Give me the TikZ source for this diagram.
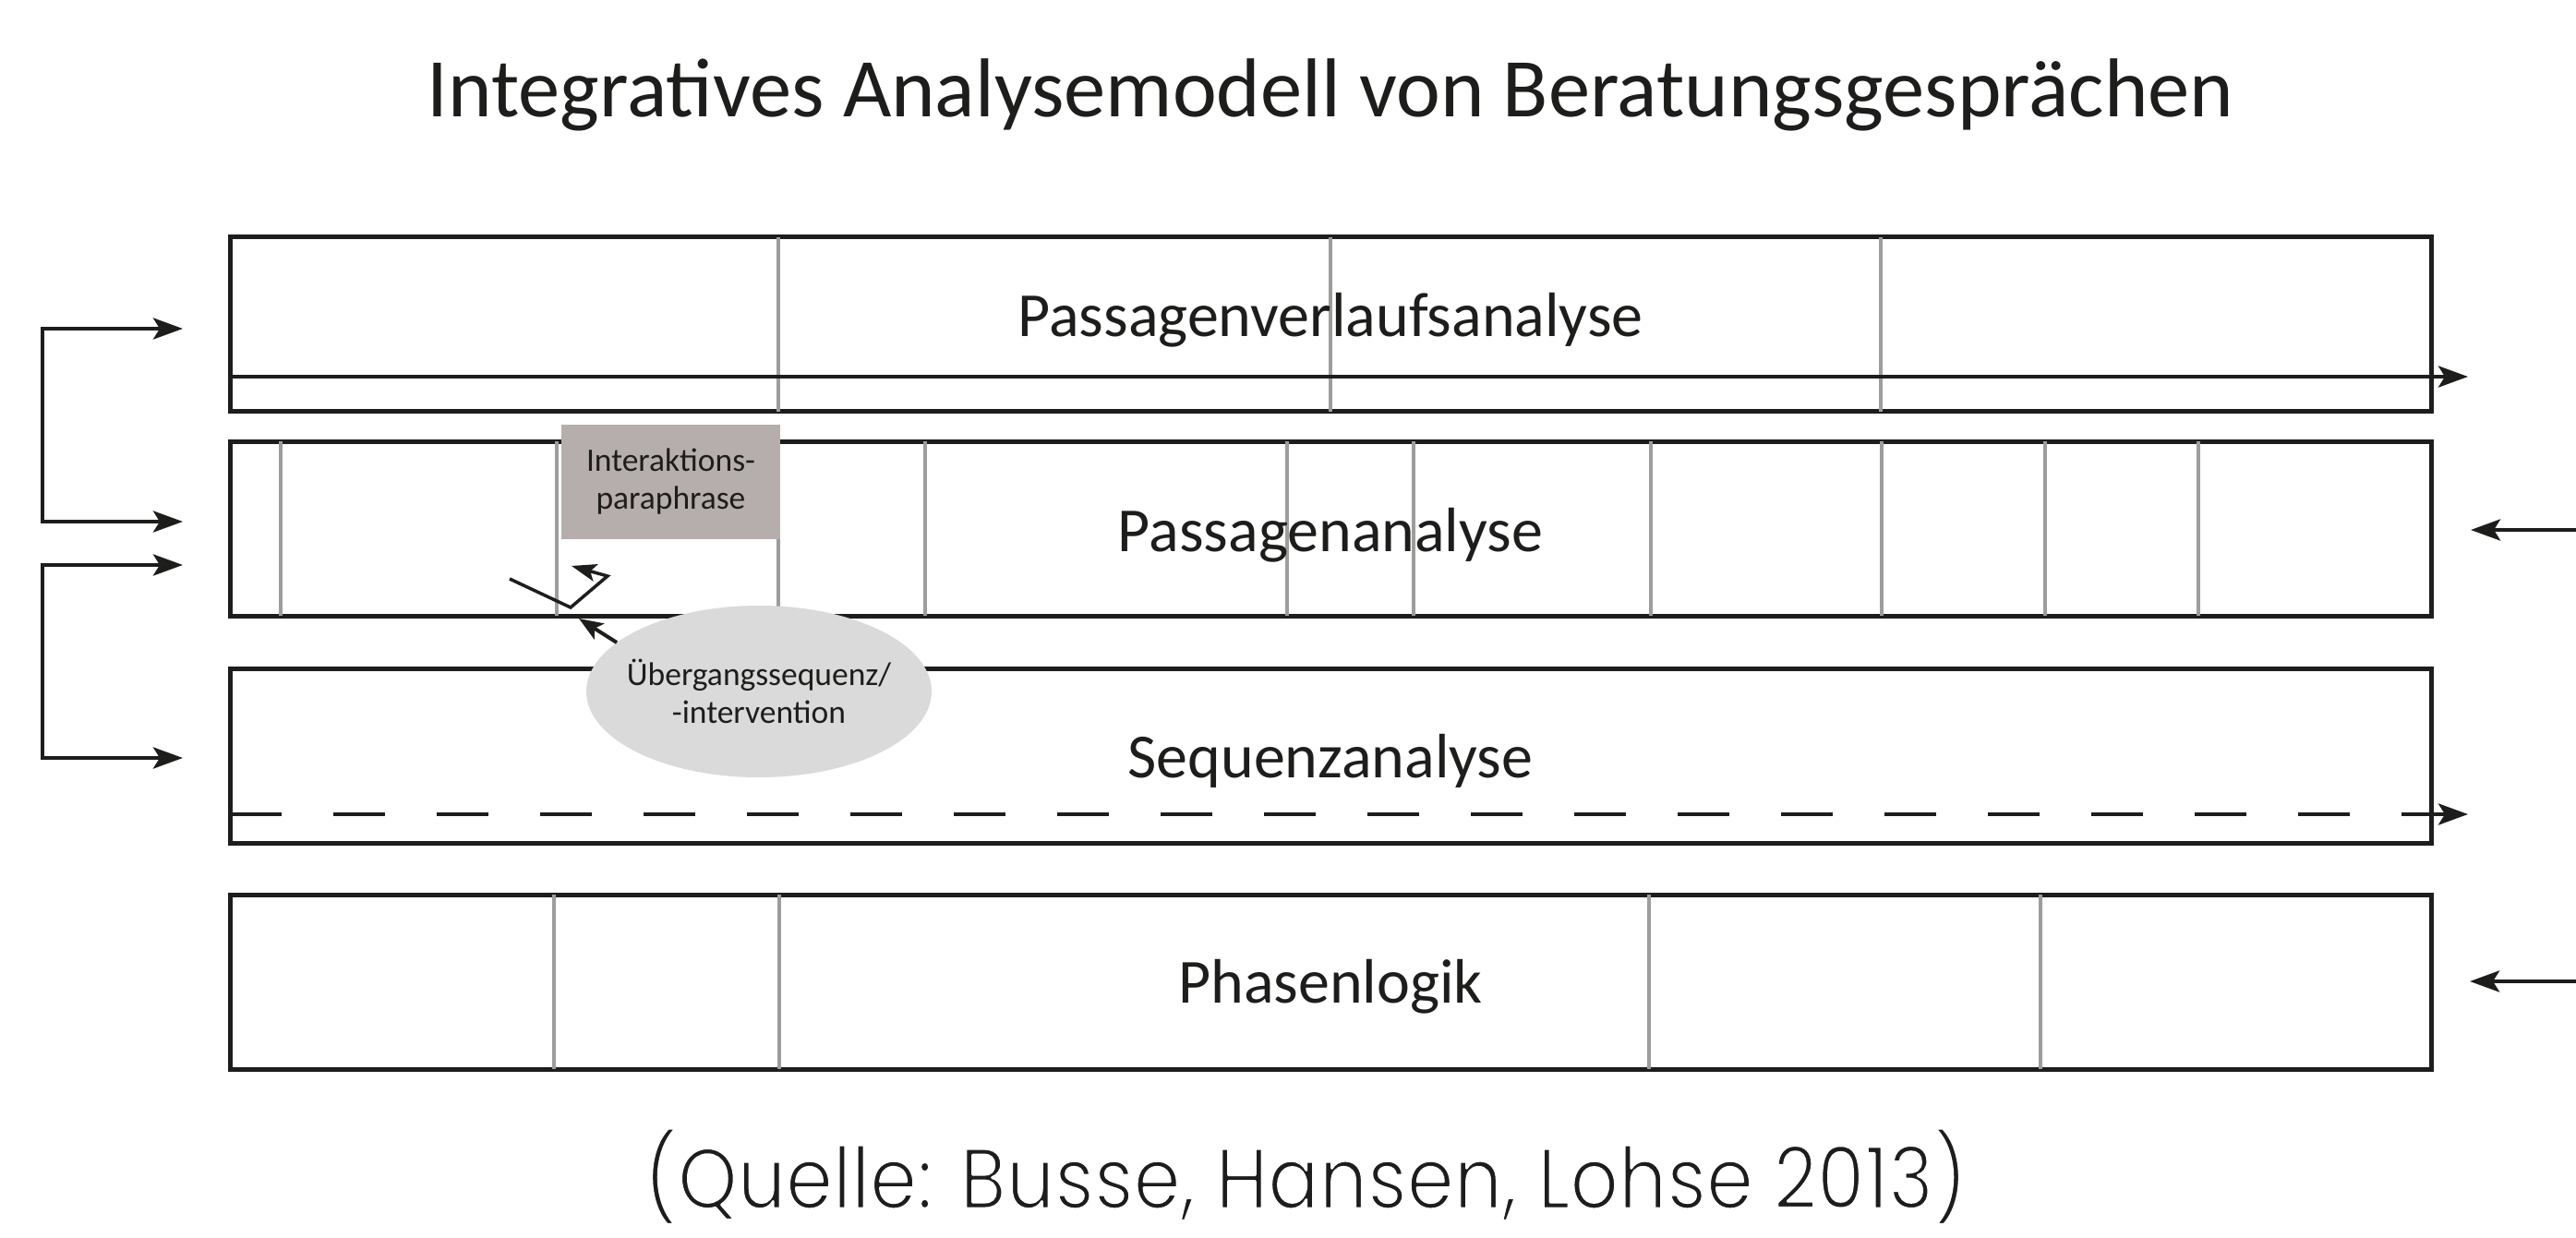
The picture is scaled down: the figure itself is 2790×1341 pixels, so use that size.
\documentclass[tikz,border=0pt]{standalone}
\usepackage{graphicx}
\usepackage{fontspec}
\setmainfont{Carlito}
\newfontfamily\capfont{Poppins}
\usetikzlibrary{arrows.meta,shapes.geometric}
\definecolor{ink}{HTML}{1D1D1B}
\definecolor{divgray}{HTML}{9D9D9C}
\definecolor{parafill}{HTML}{B5AEAC}
\definecolor{ellfill}{HTML}{DADADA}
\newcommand\thinstroke[1]{\special{pdf:literal direct 2 Tr 1 G 1 j 3 w}#1\special{pdf:literal direct 0 Tr}}
\tikzset{
  band/.style={draw=ink, line width=5pt, minimum width=2384pt, minimum height=189pt, inner sep=0pt},
  divider/.style={draw=divgray, line width=4pt, shorten <=2.5pt, shorten >=2.5pt},
  bandlabel/.style={font=\fontsize{68}{80}\selectfont, text=ink, anchor=base, inner sep=0pt},
  flow/.style={draw=ink, line width=4.5pt, -{Stealth[length=32pt,width=23pt,inset=7pt]}},
  loopline/.style={draw=ink, line width=4.5pt, {Stealth[length=32pt,width=23pt,inset=7pt]}-{Stealth[length=32pt,width=23pt,inset=7pt]}},
  thinarrow/.style={draw=ink, line width=4pt, -{Stealth[length=26pt,width=20pt,inset=6pt]}},
  smalltext/.style={font=\fontsize{35.5}{41}\selectfont, text=ink, align=center},
}
\begin{document}
\begin{tikzpicture}[x=1pt,y=-1pt]
\path[use as bounding box, fill=white] (0,0) rectangle (2790,1341);

% title
\node[font=\fontsize{90.5}{100}\selectfont, text=ink, anchor=base, inner sep=0pt] (title) at (1441,126) {Integratives Analysemodell von Beratungsgesprächen};

% bands
\node[band] (b1) at (1441,351) {};
\node[band] (b2) at (1441,572.5) {};
\node[band] (b3) at (1441,819) {};
\node[band] (b4) at (1441,1063.5) {};

% dividers
\foreach \x in {843,1441,2037}
  \draw[divider] (\x,0 |- b1.north) -- (\x,0 |- b1.south);
\foreach \x in {304,603,843,1002,1394,1531,1788,2038,2215,2381}
  \draw[divider] (\x,0 |- b2.north) -- (\x,0 |- b2.south);
\foreach \x in {600,844,1786,2210}
  \draw[divider] (\x,0 |- b4.north) -- (\x,0 |- b4.south);

% band labels
\node[bandlabel] (l1) at (1441,364) {Passagenverlaufsanalyse};
\node[bandlabel] (l2) at (1441,597) {Passagenanalyse};
\node[bandlabel] (l3) at (1441,842) {Sequenzanalyse};
\node[bandlabel] (l4) at (1441,1086) {Phasenlogik};

% horizontal flow arrows
\coordinate (f1s) at (249,408);
\coordinate (f1e) at (2673,408);
\draw[flow] (f1s) -- (f1e);
\coordinate (f3s) at (249,882);
\coordinate (f3e) at (2673,882);
\draw[flow, dash pattern=on 56pt off 56pt] (f3s) -- (f3e);

% right incoming arrows
\coordinate (r2s) at (2790,574);
\coordinate (r2e) at (2676,574);
\draw[flow] (r2s) -- (r2e);
\coordinate (r4s) at (2790,1063);
\coordinate (r4e) at (2675,1063);
\draw[flow] (r4s) -- (r4e);

% left loop brackets
\coordinate (a1) at (198,356);
\coordinate (a2) at (198,565);
\draw[loopline] (a1) -- (46,356) -- (46,565) -- (a2);
\coordinate (a3) at (198,612);
\coordinate (a4) at (198,821);
\draw[loopline] (a3) -- (46,612) -- (46,821) -- (a4);

% Interaktionsparaphrase box
\node[fill=parafill, minimum width=237pt, minimum height=124pt, inner sep=0pt, smalltext] (para) at (726.5,522) {Interaktions-\\paraphrase};

% angle mark
\coordinate (m1) at (552,627);
\coordinate (m2) at (618,658);
\coordinate (m3) at (658,624);
\coordinate (m4) at (619,613);
\draw[draw=ink, line width=3.5pt, -{Stealth[length=27pt,width=19pt,inset=6pt]}] (m1) -- (m2) -- (m3) -- (m4);

% ellipse
\node[ellipse, fill=ellfill, minimum width=374pt, minimum height=186pt, inner xsep=-30pt, inner ysep=0pt, smalltext] (ell) at (822,749) {Übergangssequenz/\\-intervention};
\coordinate (u1) at (627,670);
\draw[thinarrow] (ell.161.5) -- (u1);

% source
\node[anchor=base, text=ink, inner sep=0pt] (src) at (1414,1309) {\resizebox{1434pt}{\height}{\capfont\fontsize{93}{103}\selectfont\thinstroke{(Quelle: Busse, Hansen, Lohse 2013)}}};
\end{tikzpicture}
\end{document}
